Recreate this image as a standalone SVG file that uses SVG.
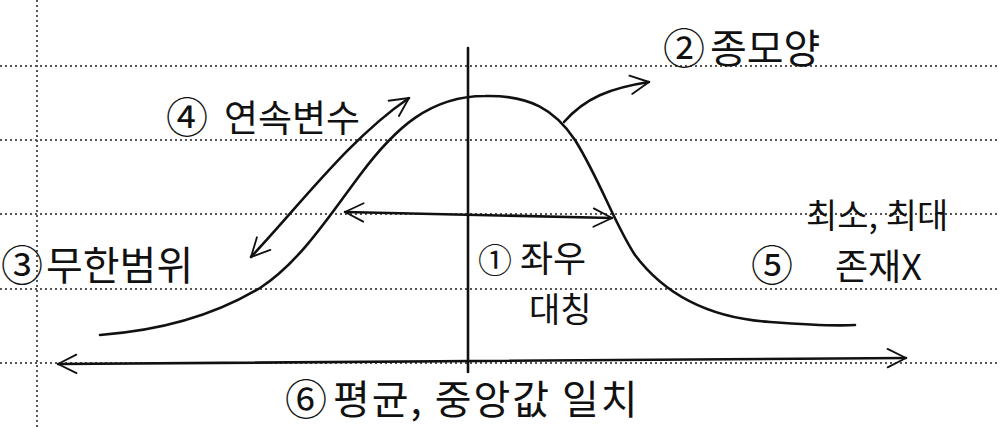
<svg xmlns="http://www.w3.org/2000/svg" width="1000" height="427" viewBox="0 0 1000 427">
<style>
.rule{stroke:#555;stroke-width:2;stroke-dasharray:2 3;fill:none}
.ink{stroke:#111;stroke-width:2.6;fill:none;stroke-linecap:round;stroke-linejoin:round}
.lbl{font-family:"Noto Sans CJK KR","Noto Sans",sans-serif;font-size:38px;fill:#111}
.num{font-family:"Noto Sans CJK KR","Noto Sans",sans-serif;font-size:42px;fill:#111}
</style>
<defs>
<marker id="chev" viewBox="0 0 12 12" refX="11" refY="6" markerWidth="8.5" markerHeight="8.5" orient="auto-start-reverse" markerUnits="strokeWidth">
<path d="M1,1 L11,6 L1,11" fill="none" stroke="#111" stroke-width="1" stroke-linecap="round" stroke-linejoin="round"/>
</marker>
</defs>
<rect width="1000" height="427" fill="#fff"/>
<g id="paper">
<line class="rule" x1="0" y1="66" x2="1000" y2="66"/>
<line class="rule" x1="0" y1="140" x2="1000" y2="140"/>
<line class="rule" x1="0" y1="214" x2="1000" y2="214"/>
<line class="rule" x1="0" y1="289" x2="1000" y2="289"/>
<line class="rule" x1="0" y1="363" x2="1000" y2="363"/>
<line class="rule" x1="37" y1="0" x2="37" y2="427"/>
</g>
<g id="axis">
<line class="ink" x1="468" y1="48" x2="468" y2="372"/>
</g>
<g id="curve">
<path class="ink" d="M100,335 C170,330 220,312 260,288 C300,262 330,215 360,175 C395,128 430,96 485,96 C530,95 555,110 575,140 C600,180 615,225 635,255 C665,295 710,318 770,322 C810,325 840,326 855,325"/>
</g>
<g id="connectors">
<path class="ink" d="M58,364 L906,358" marker-start="url(#chev)" marker-end="url(#chev)"/>
<path class="ink" d="M345,212 L612,218" marker-start="url(#chev)" marker-end="url(#chev)"/>
<path class="ink" d="M251,257 C300,205 350,138 409,98" marker-start="url(#chev)" marker-end="url(#chev)"/>
<path class="ink" d="M564,122 C585,98 610,88 649,82" marker-end="url(#chev)"/>
</g>
<g id="n4"><text class="num" x="166" y="133">④</text><text class="lbl" x="224" y="132" style="font-size:37px">연속변수</text></g>
<g id="n2"><text class="num" x="663" y="64">②</text><text class="lbl" x="710" y="63" style="font-size:40px">종모양</text></g>
<g id="n3"><text class="num" x="1" y="281">③</text><text class="lbl" x="46" y="280" style="font-size:40px">무한범위</text></g>
<g id="n1"><text class="num" x="478" y="273" style="font-size:34px">①</text><text class="lbl" x="520" y="272" style="font-size:36px">좌우</text><text class="lbl" x="529" y="322" style="font-size:34px">대칭</text></g>
<g id="n5"><text class="lbl" x="806" y="228" style="font-size:34px">최소, 최대</text><text class="num" x="751" y="281">⑤</text><text class="lbl" x="835" y="280" style="font-size:36px">존재X</text></g>
<g id="n6"><text class="num" x="285" y="415">⑥</text><text class="lbl" x="333" y="414" style="font-size:40px;letter-spacing:2px">평균, 중앙값 일치</text></g>
</svg>
